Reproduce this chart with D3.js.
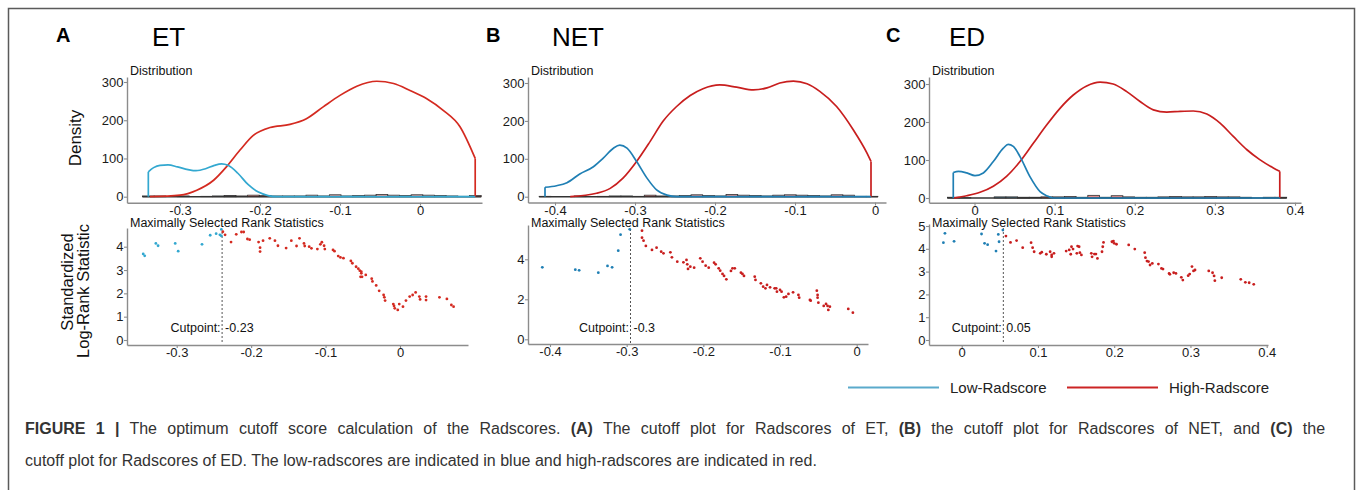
<!DOCTYPE html>
<meta charset="utf-8" />
<style>
  body { margin: 0; background: #fff; }
  svg text { font-family: "Liberation Sans", Arial, sans-serif; }
</style>
<svg width="1358" height="490"></svg>
<script src="https://cdnjs.cloudflare.com/ajax/libs/d3/7.8.5/d3.min.js"></script>
<script>
    var svg = d3.select("svg");

    // panels
    var panelLetters = ["A", "B", "C"];
    var panelTitles = ["ET", "NET", "ED"];
    var cutpoints = [-0.239, -0.295, 0.0546];
    var cutLabels = ["-0.23", "-0.3", "0.05"];

    // ticks
    var densTicks = [0, 100, 200, 300];
    var xTicks = [
        [-0.3, -0.2, -0.1, 0],
        [-0.4, -0.3, -0.2, -0.1, 0],
        [0, 0.1, 0.2, 0.3, 0.4]
    ];
    var statTicks = [
        [0, 1, 2, 3, 4],
        [0, 2, 4],
        [0, 1, 2, 3, 4, 5]
    ];

    // density curves [radscore, density]
    var etDensLow = [[-0.3396,65],[-0.333,76],[-0.325,82],[-0.315,83],[-0.303,78],[-0.290,71],[-0.280,68],[-0.268,73],[-0.257,82],[-0.248,86],[-0.240,82],[-0.228,62],[-0.215,32],[-0.202,12],[-0.190,3],[-0.178,0],[-0.100,0],[0.069,0]];
    var etDensHigh = [[-0.3375,0],[-0.300,4],[-0.279,17],[-0.258,43],[-0.242,78],[-0.225,122],[-0.208,161],[-0.1875,181],[-0.1625,189],[-0.142,204],[-0.121,235],[-0.100,265],[-0.079,289],[-0.054,302],[-0.033,296],[-0.0125,278],[0.008,257],[0.029,226],[0.050,183],[0.069,100]];
    var netDensLow = [[-0.4125,25],[-0.398,29],[-0.385,37],[-0.369,60],[-0.352,79],[-0.340,101],[-0.327,128],[-0.319,136],[-0.310,128],[-0.298,93],[-0.285,49],[-0.273,18],[-0.260,4],[-0.248,0],[-0.150,0],[-0.005,0]];
    var netDensHigh = [[-0.381,0],[-0.348,9],[-0.331,22],[-0.315,49],[-0.298,93],[-0.281,146],[-0.265,199],[-0.248,238],[-0.231,267],[-0.215,285],[-0.194,295],[-0.173,289],[-0.152,282],[-0.135,287],[-0.119,300],[-0.102,305],[-0.085,298],[-0.069,278],[-0.048,238],[-0.027,176],[-0.010,115],[-0.005,93]];
    var edDensLow = [[-0.0265,67],[-0.020,70],[-0.0097,66],[0.0006,59],[0.011,66],[0.0235,96],[0.036,131],[0.042,141],[0.0484,136],[0.0568,109],[0.069,57],[0.0818,17],[0.090,6],[0.098,0],[0.200,0],[0.381,0]];
    var edDensHigh = [[-0.0256,0],[-0.0097,6],[0.0069,15],[0.0235,31],[0.040,57],[0.0568,96],[0.0734,144],[0.090,192],[0.1067,236],[0.1233,271],[0.140,295],[0.1567,305],[0.173,300],[0.190,280],[0.2066,254],[0.2232,232],[0.240,226],[0.2566,228],[0.273,229],[0.290,221],[0.3065,197],[0.323,162],[0.340,127],[0.356,101],[0.373,79],[0.381,70]];

    // maximally selected rank statistics [radscore, statistic]
    var etLow = [[-0.345,3.69],[-0.343,3.61],[-0.328,4.14],[-0.325,4.04],[-0.302,4.14],[-0.298,3.81],[-0.266,4.10],[-0.255,4.49],[-0.247,4.56],[-0.242,4.51],[-0.240,4.46],[-0.240,4.74]];
    var etHigh = [[-0.238,4.64],[-0.235,4.51],[-0.227,4.20],[-0.220,4.53],[-0.213,4.63],[-0.210,4.63],[-0.205,4.33],[-0.202,4.30],[-0.190,4.20],[-0.188,3.96],[-0.188,3.79],[-0.184,4.26],[-0.175,4.36],[-0.168,4.26],[-0.164,4.04],[-0.153,3.94],[-0.146,4.26],[-0.139,4.03],[-0.135,4.36],[-0.129,4.14],[-0.128,4.03],[-0.122,4.00],[-0.119,3.93],[-0.111,3.90],[-0.107,4.10],[-0.105,4.19],[-0.102,4.04],[-0.101,3.90],[-0.090,3.86],[-0.088,3.81],[-0.083,3.60],[-0.080,3.54],[-0.076,3.51],[-0.066,3.39],[-0.064,3.29],[-0.059,3.14],[-0.056,3.06],[-0.054,2.97],[-0.052,2.93],[-0.052,2.86],[-0.053,2.71],[-0.051,2.71],[-0.046,2.79],[-0.038,2.63],[-0.037,2.51],[-0.032,2.34],[-0.028,2.11],[-0.022,1.93],[-0.021,1.83],[-0.020,1.69],[-0.009,1.54],[-0.008,1.46],[-0.007,1.36],[-0.003,1.29],[-0.001,1.54],[0.004,1.43],[0.008,1.69],[0.013,1.86],[0.017,1.93],[0.021,2.04],[0.026,1.86],[0.027,1.74],[0.035,1.86],[0.035,1.71],[0.053,1.83],[0.063,1.76],[0.069,1.50],[0.072,1.43]];
    var netLow = [[-0.410,3.60],[-0.367,3.48],[-0.362,3.45],[-0.337,3.33],[-0.325,3.67],[-0.319,3.60],[-0.311,4.43],[-0.308,5.23],[-0.296,5.50]];
    var netHigh = [[-0.280,5.43],[-0.280,5.08],[-0.278,4.93],[-0.275,4.67],[-0.267,4.47],[-0.261,4.58],[-0.255,4.38],[-0.252,4.30],[-0.243,4.35],[-0.241,4.10],[-0.234,3.88],[-0.226,3.85],[-0.222,3.97],[-0.221,3.75],[-0.220,3.52],[-0.217,3.63],[-0.212,3.58],[-0.204,4.05],[-0.201,3.88],[-0.197,3.68],[-0.193,3.58],[-0.186,3.83],[-0.184,3.75],[-0.180,3.55],[-0.178,3.43],[-0.175,3.27],[-0.173,3.17],[-0.170,3.00],[-0.164,3.42],[-0.162,3.55],[-0.159,3.55],[-0.151,3.33],[-0.149,3.27],[-0.147,3.17],[-0.133,3.13],[-0.132,2.97],[-0.125,2.80],[-0.122,2.63],[-0.119,2.55],[-0.117,2.72],[-0.113,2.60],[-0.107,2.55],[-0.105,2.55],[-0.104,2.38],[-0.100,2.47],[-0.098,2.38],[-0.095,2.10],[-0.092,2.13],[-0.089,2.27],[-0.083,2.35],[-0.076,2.22],[-0.075,2.08],[-0.061,1.97],[-0.060,1.93],[-0.052,2.43],[-0.051,2.22],[-0.051,2.08],[-0.050,1.83],[-0.043,1.67],[-0.040,1.77],[-0.038,1.67],[-0.037,1.47],[-0.035,1.63],[-0.011,1.52],[-0.005,1.33]];
    var edLow = [[-0.024,4.27],[-0.022,4.68],[-0.010,4.33],[0.026,4.65],[0.030,4.24],[0.034,4.18],[0.045,3.90],[0.048,4.63],[0.049,4.31],[0.054,4.82]];
    var edHigh = [[0.058,4.56],[0.064,4.28],[0.072,4.36],[0.080,4.05],[0.091,4.27],[0.093,4.05],[0.095,3.87],[0.103,3.80],[0.105,3.85],[0.111,3.76],[0.116,3.87],[0.118,3.73],[0.118,3.65],[0.121,3.80],[0.137,3.90],[0.141,3.95],[0.143,3.76],[0.144,4.09],[0.146,3.99],[0.151,3.80],[0.152,4.12],[0.154,4.09],[0.155,3.83],[0.157,3.73],[0.170,3.80],[0.171,3.65],[0.174,3.77],[0.176,3.77],[0.178,3.58],[0.184,3.87],[0.185,4.09],[0.186,4.28],[0.197,4.31],[0.199,4.34],[0.200,4.24],[0.203,4.20],[0.219,4.17],[0.227,3.99],[0.240,3.83],[0.241,3.61],[0.243,3.46],[0.245,3.44],[0.247,3.29],[0.250,3.36],[0.258,3.33],[0.262,3.14],[0.264,3.11],[0.272,2.92],[0.273,2.88],[0.278,2.95],[0.281,2.92],[0.288,2.75],[0.290,2.63],[0.297,2.82],[0.299,2.89],[0.302,3.22],[0.304,3.03],[0.306,3.07],[0.324,3.03],[0.329,2.95],[0.331,2.81],[0.332,2.60],[0.341,2.73],[0.366,2.66],[0.372,2.53],[0.377,2.51],[0.383,2.44]];

    var densLow = [etDensLow, netDensLow, edDensLow];
    var densHigh = [etDensHigh, netDensHigh, edDensHigh];
    var statLow = [etLow, netLow, edLow];
    var statHigh = [etHigh, netHigh, edHigh];

    var legendLabels = ["Low-Radscore", "High-Radscore"];

    // colours
    var lowCol = ["#33a8d0", "#1f7fb4", "#1f7fb4"];
    var highCol = ["#d42a20", "#c81e1e", "#c81e1e"];
    var axisCol = "#8c8c8c";
    var binW = 0.0146;

    // pixel layout: [value0, px0, value1, px1, pxStart, pxEnd]
    var layout = [
        { letterX: 56, titleX: 152, left: 127,
          tx: [-0.3, 180, 0, 420, 127, 482], ty: [0, 196.7, 300, 82, 202.7, 77],
          bx: [-0.3, 176.7, 0, 400, 127, 468], by: [0, 340, 4, 246.7, 345, 228] },
        { letterX: 486, titleX: 552, left: 528,
          tx: [-0.4, 555, 0, 875, 528, 886], ty: [0, 196.7, 300, 83, 202.5, 77],
          bx: [-0.4, 550, 0, 856.7, 528, 868], by: [0, 339.3, 4, 259.3, 344, 225] },
        { letterX: 886, titleX: 949, left: 929,
          tx: [0, 974.5, 0.4, 1295, 929, 1301], ty: [0, 198, 300, 84, 202.7, 77],
          bx: [0, 961.7, 0.4, 1266.7, 929, 1268], by: [0, 340, 5, 226, 345, 224] }
    ];

    function lin(m) {
        var k = (m[2] - m[0]) / (m[3] - m[1]);
        return d3.scaleLinear()
            .domain([m[0] + (m[4] - m[1]) * k, m[0] + (m[5] - m[1]) * k])
            .range([m[4], m[5]]);
    }

    function styleAxis(g) {
        g.attr("font-family", null).attr("font-size", null);
        g.select(".domain").attr("stroke", axisCol).attr("stroke-width", 1.4);
        g.selectAll(".tick line").attr("stroke", axisCol).attr("stroke-width", 1.1);
        g.selectAll(".tick text").attr("fill", "#1a1a1a").style("font-size", "13px");
    }

    // frame
    svg.append("rect")
        .attr("x", 8.5).attr("y", 8.5)
        .attr("width", 1346).attr("height", 500)
        .attr("fill", "none").attr("stroke", "#5a5a5a").attr("stroke-width", 1.5);

    panelLetters.forEach(function(letter, i) {
        var L = layout[i];
        var g = svg.append("g");

        g.append("text").attr("x", L.letterX).attr("y", 42)
            .style("font-size", "20px").style("font-weight", "bold").text(letter);
        g.append("text").attr("x", L.titleX).attr("y", 46)
            .style("font-size", "26px").text(panelTitles[i]);

        // ---- distribution ----
        var x = lin(L.tx), y = lin(L.ty);

        g.append("g").attr("transform", "translate(0," + L.ty[4] + ")")
            .call(d3.axisBottom(x).tickValues(xTicks[i]).tickFormat(String)
                .tickSize(3).tickPadding(0).tickSizeOuter(0))
            .call(styleAxis);
        g.append("g").attr("transform", "translate(" + L.left + ",0)")
            .call(d3.axisLeft(y).tickValues(densTicks).tickFormat(String)
                .tickSize(3).tickPadding(0.5).tickSizeOuter(0))
            .call(styleAxis);

        g.append("text").attr("x", L.left + 3).attr("y", 74.5)
            .style("font-size", "12.5px").attr("fill", "#111").text("Distribution");

        // histogram of radscores along the baseline
        var ext = d3.extent(densLow[i].concat(densHigh[i]), function(d) { return d[0]; });
        var thr = d3.range(ext[0] - binW / 2, ext[1] + binW, binW);
        g.append("line")
            .attr("x1", x(thr[0])).attr("x2", x(thr[thr.length - 1]))
            .attr("y1", y(0)).attr("y2", y(0))
            .attr("stroke", "#333").attr("stroke-width", 1.4);
        [statLow[i], statHigh[i]].forEach(function(pts, gi) {
            var bins = d3.bin().value(function(d) { return d[0]; })
                .domain([thr[0], thr[thr.length - 1]]).thresholds(thr)(pts)
                .filter(function(b) { return b.length > 0; });
            g.append("g").selectAll("rect").data(bins).enter().append("rect")
                .attr("x", function(b) { return x(b.x0); })
                .attr("width", function(b) { return x(b.x1) - x(b.x0); })
                .attr("y", function(b) { return y(b.length); })
                .attr("height", function(b) { return y(0) - y(b.length); })
                .attr("fill", gi ? highCol[i] : lowCol[i]).attr("fill-opacity", 0.5)
                .attr("stroke", "#333").attr("stroke-width", 0.8);
        });

        var line = d3.line()
            .x(function(d) { return x(d[0]); })
            .y(function(d) { return y(d[1]); })
            .curve(d3.curveMonotoneX);

        var lo = densLow[i], hi = densHigh[i];
        g.append("path").attr("d", line(hi)).attr("fill", "none")
            .attr("stroke", highCol[i]).attr("stroke-width", 1.7);
        g.append("line")
            .attr("x1", x(hi[hi.length - 1][0])).attr("x2", x(hi[hi.length - 1][0]))
            .attr("y1", y(hi[hi.length - 1][1])).attr("y2", y(0))
            .attr("stroke", highCol[i]).attr("stroke-width", 1.7);
        g.append("path").attr("d", line(lo)).attr("fill", "none")
            .attr("stroke", lowCol[i]).attr("stroke-width", 1.7);
        g.append("line")
            .attr("x1", x(lo[0][0])).attr("x2", x(lo[0][0]))
            .attr("y1", y(lo[0][1])).attr("y2", y(0))
            .attr("stroke", lowCol[i]).attr("stroke-width", 1.7);

        // ---- rank statistics ----
        var bx = lin(L.bx), by = lin(L.by);

        g.append("g").attr("transform", "translate(0," + L.by[4] + ")")
            .call(d3.axisBottom(bx).tickValues(xTicks[i]).tickFormat(String)
                .tickSize(3).tickPadding(0).tickSizeOuter(0))
            .call(styleAxis);
        g.append("g").attr("transform", "translate(" + L.left + ",0)")
            .call(d3.axisLeft(by).tickValues(statTicks[i]).tickFormat(String)
                .tickSize(3).tickPadding(0.5).tickSizeOuter(0))
            .call(styleAxis);

        g.append("text").attr("x", L.left + 3).attr("y", 227)
            .style("font-size", "12.5px").attr("fill", "#111").text("Maximally Selected Rank Statistics");

        var cx = bx(cutpoints[i]);
        g.append("line")
            .attr("x1", cx).attr("x2", cx)
            .attr("y1", L.by[5] + 4).attr("y2", L.by[4] - 1)
            .attr("stroke", "#555").attr("stroke-width", 1).attr("stroke-dasharray", "2,2");
        g.append("text").attr("x", cx - 1.5).attr("y", 331.5).attr("text-anchor", "end")
            .style("font-size", "12.5px").attr("fill", "#111").text("Cutpoint:");
        g.append("text").attr("x", cx + 3).attr("y", 331.5)
            .style("font-size", "12.5px").attr("fill", "#111").text(cutLabels[i]);

        [statLow[i], statHigh[i]].forEach(function(pts, gi) {
            g.append("g").selectAll("circle").data(pts).enter().append("circle")
                .attr("cx", function(d) { return bx(d[0]); })
                .attr("cy", function(d) { return by(d[1]); })
                .attr("r", 1.4)
                .attr("fill", gi ? highCol[i] : lowCol[i]);
        });
    });

    // shared y-axis titles
    svg.append("text").attr("transform", "translate(80.5,138) rotate(-90)")
        .attr("text-anchor", "middle").style("font-size", "17px").attr("fill", "#111").text("Density");
    svg.append("text").attr("transform", "translate(72.5,282) rotate(-90)")
        .attr("text-anchor", "middle").style("font-size", "16.5px").attr("fill", "#111").text("Standardized");
    svg.append("text").attr("transform", "translate(89,291) rotate(-90)")
        .attr("text-anchor", "middle").style("font-size", "16.5px").attr("fill", "#111").text("Log-Rank Statistic");

    // legend
    var legX = [848, 1067];
    var legCol = ["#5aaacb", "#cc2424"];
    legendLabels.forEach(function(lab, i) {
        svg.append("line").attr("x1", legX[i]).attr("x2", legX[i] + 91)
            .attr("y1", 387.5).attr("y2", 387.5)
            .attr("stroke", legCol[i]).attr("stroke-width", 1.8);
        svg.append("text").attr("x", legX[i] + 102).attr("y", 392.5)
            .style("font-size", "15px").attr("fill", "#222").text(lab);
    });

    // caption (first line justified to the frame width)
    var capParts = [["FIGURE 1 |", true], [" The optimum cutoff score calculation of the Radscores. ", false],
        ["(A)", true], [" The cutoff plot for Radscores of ET, ", false],
        ["(B)", true], [" the cutoff plot for Radscores of NET, and ", false],
        ["(C)", true], [" the", false]];
    var cap = svg.append("text").attr("x", 25).attr("y", 434)
        .style("font-size", "16px").attr("fill", "#333");
    capParts.forEach(function(p) {
        cap.append("tspan").style("font-weight", p[1] ? "bold" : "normal").text(p[0]);
    });
    var nSpaces = capParts.map(function(p) { return p[0]; }).join("").split(" ").length - 1;
    var natural = cap.node().getComputedTextLength();
    cap.style("word-spacing", ((1325 - 25 - natural) / nSpaces) + "px");

    svg.append("text").attr("x", 25).attr("y", 466)
        .style("font-size", "16px").attr("fill", "#333")
        .text("cutoff plot for Radscores of ED. The low-radscores are indicated in blue and high-radscores are indicated in red.");
</script>
